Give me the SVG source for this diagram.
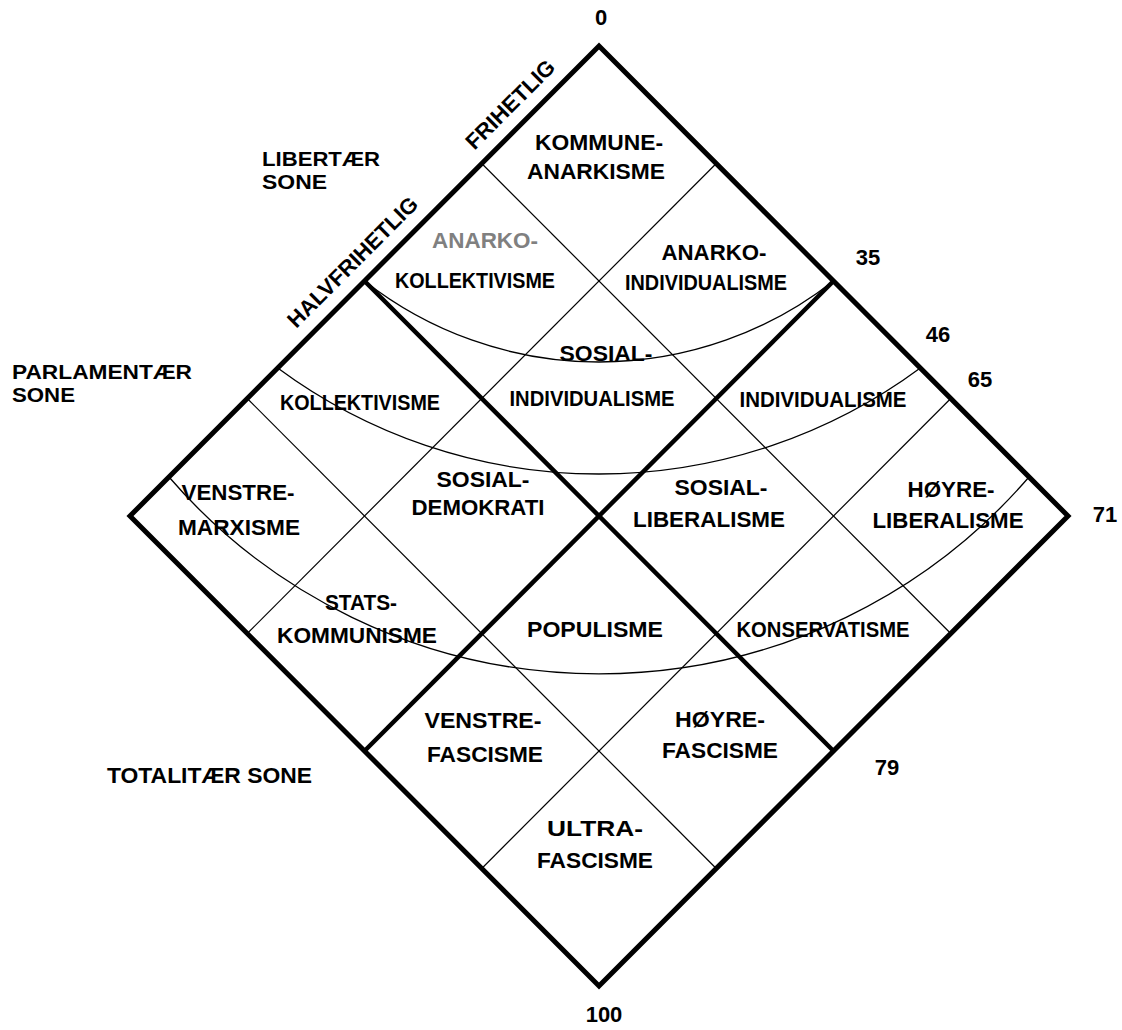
<svg xmlns="http://www.w3.org/2000/svg" width="1122" height="1030" viewBox="0 0 1122 1030">
<style>
.t{font-family:"Liberation Sans",Arial,Helvetica,sans-serif;font-weight:bold;font-size:22px;fill:#000}
.z{font-size:20px}
.c{text-anchor:middle}
.g{fill:#808080}
.frame{fill:none;stroke:#000;stroke-width:5;stroke-linejoin:miter}
.thick{fill:none;stroke:#000;stroke-width:4.5;stroke-linecap:butt}
.thin{fill:none;stroke:#000;stroke-width:1.2}
.arc{fill:none;stroke:#000;stroke-width:1.3}
</style>
<rect width="1122" height="1030" fill="#fff"/>
<g id="connectors">
  <g id="grid-thin">
    <line class="thin" x1="481.75" y1="163.5" x2="950.75" y2="633.5"/>
    <line class="thin" x1="247.25" y1="398.5" x2="716.25" y2="868.5"/>
    <line class="thin" x1="716.25" y1="163.5" x2="247.25" y2="633.5"/>
    <line class="thin" x1="950.75" y1="398.5" x2="481.75" y2="868.5"/>
  </g>
  <g id="arcs">
    <path class="arc" d="M364.5,281 A380,380 0 0 0 833.5,281"/>
    <path class="arc" d="M277.7,368 A540,540 0 0 0 920.3,368"/>
    <path class="arc" d="M169,477 A568,568 0 0 0 1029,477"/>
  </g>
  <g id="grid-thick">
    <line class="thick" x1="364.5" y1="281" x2="833.5" y2="751"/>
    <line class="thick" x1="833.5" y1="281" x2="364.5" y2="751"/>
  </g>
  <polygon id="frame" class="frame" points="599,46 1068,516 599,986 130,516"/>
</g>
<g id="scale-labels">
  <text class="t c" x="601" y="25">0</text>
  <text class="t c" x="868" y="265">35</text>
  <text class="t c" x="938" y="342">46</text>
  <text class="t c" x="980" y="387">65</text>
  <text class="t c" x="1105" y="522">71</text>
  <text class="t c" x="887" y="775">79</text>
  <text class="t c" x="604" y="1022">100</text>
</g>
<g id="zone-labels">
  <text class="t z" x="262" y="166" textLength="118" lengthAdjust="spacingAndGlyphs">LIBERTÆR</text>
  <text class="t z" x="262" y="189" textLength="65" lengthAdjust="spacingAndGlyphs">SONE</text>
  <text class="t z" x="12" y="379" textLength="180" lengthAdjust="spacingAndGlyphs">PARLAMENTÆR</text>
  <text class="t z" x="12" y="402" textLength="63" lengthAdjust="spacingAndGlyphs">SONE</text>
  <text class="t" x="107" y="783" textLength="205" lengthAdjust="spacingAndGlyphs">TOTALITÆR SONE</text>
  <text class="t c" x="515.6" y="109.6" transform="rotate(-45 515.6 109.6)">FRIHETLIG</text>
  <text class="t c" x="357.9" y="267.3" transform="rotate(-45 357.9 267.3)">HALVFRIHETLIG</text>
</g>
<g id="n-kommuneanarkisme">
  <text class="t c" x="599" y="150" textLength="128" lengthAdjust="spacingAndGlyphs">KOMMUNE-</text>
  <text class="t c" x="596" y="179" textLength="138" lengthAdjust="spacingAndGlyphs">ANARKISME</text>
</g>
<g id="n-anarkokollektivisme">
  <text class="t c g" x="485" y="248" textLength="106" lengthAdjust="spacingAndGlyphs">ANARKO-</text>
  <text class="t c" x="475" y="288" textLength="160" lengthAdjust="spacingAndGlyphs">KOLLEKTIVISME</text>
</g>
<g id="n-anarkoindividualisme">
  <text class="t c" x="714" y="260" textLength="105" lengthAdjust="spacingAndGlyphs">ANARKO-</text>
  <text class="t c" x="706" y="290" textLength="162" lengthAdjust="spacingAndGlyphs">INDIVIDUALISME</text>
</g>
<g id="n-kollektivisme">
  <text class="t c" x="360" y="410" textLength="160" lengthAdjust="spacingAndGlyphs">KOLLEKTIVISME</text>
</g>
<g id="n-sosialindividualisme">
  <text class="t c" x="606" y="361" textLength="93" lengthAdjust="spacingAndGlyphs">SOSIAL-</text>
  <text class="t c" x="592" y="406" textLength="165" lengthAdjust="spacingAndGlyphs">INDIVIDUALISME</text>
</g>
<g id="n-individualisme">
  <text class="t c" x="823" y="407" textLength="167" lengthAdjust="spacingAndGlyphs">INDIVIDUALISME</text>
</g>
<g id="n-venstremarxisme">
  <text class="t c" x="238" y="500" textLength="113" lengthAdjust="spacingAndGlyphs">VENSTRE-</text>
  <text class="t c" x="239" y="535" textLength="122" lengthAdjust="spacingAndGlyphs">MARXISME</text>
</g>
<g id="n-sosialdemokrati">
  <text class="t c" x="483" y="487" textLength="93" lengthAdjust="spacingAndGlyphs">SOSIAL-</text>
  <text class="t c" x="478" y="515" textLength="133" lengthAdjust="spacingAndGlyphs">DEMOKRATI</text>
</g>
<g id="n-sosialliberalisme">
  <text class="t c" x="721" y="495" textLength="93" lengthAdjust="spacingAndGlyphs">SOSIAL-</text>
  <text class="t c" x="709" y="527" textLength="152" lengthAdjust="spacingAndGlyphs">LIBERALISME</text>
</g>
<g id="n-hoyreliberalisme">
  <text class="t c" x="951" y="497" textLength="87" lengthAdjust="spacingAndGlyphs">HØYRE-</text>
  <text class="t c" x="948" y="528" textLength="151" lengthAdjust="spacingAndGlyphs">LIBERALISME</text>
</g>
<g id="n-statskommunisme">
  <text class="t c" x="361" y="610" textLength="72" lengthAdjust="spacingAndGlyphs">STATS-</text>
  <text class="t c" x="357" y="643" textLength="160" lengthAdjust="spacingAndGlyphs">KOMMUNISME</text>
</g>
<g id="n-populisme">
  <text class="t c" x="595" y="637" textLength="136" lengthAdjust="spacingAndGlyphs">POPULISME</text>
</g>
<g id="n-konservatisme">
  <text class="t c" x="823" y="637" textLength="173" lengthAdjust="spacingAndGlyphs">KONSERVATISME</text>
</g>
<g id="n-venstrefascisme">
  <text class="t c" x="483" y="728" textLength="117" lengthAdjust="spacingAndGlyphs">VENSTRE-</text>
  <text class="t c" x="485" y="762" textLength="116" lengthAdjust="spacingAndGlyphs">FASCISME</text>
</g>
<g id="n-hoyrefascisme">
  <text class="t c" x="720" y="727" textLength="90" lengthAdjust="spacingAndGlyphs">HØYRE-</text>
  <text class="t c" x="720" y="758" textLength="116" lengthAdjust="spacingAndGlyphs">FASCISME</text>
</g>
<g id="n-ultrafascisme">
  <text class="t c" x="595" y="836" textLength="96" lengthAdjust="spacingAndGlyphs">ULTRA-</text>
  <text class="t c" x="595" y="868" textLength="116" lengthAdjust="spacingAndGlyphs">FASCISME</text>
</g>
</svg>
